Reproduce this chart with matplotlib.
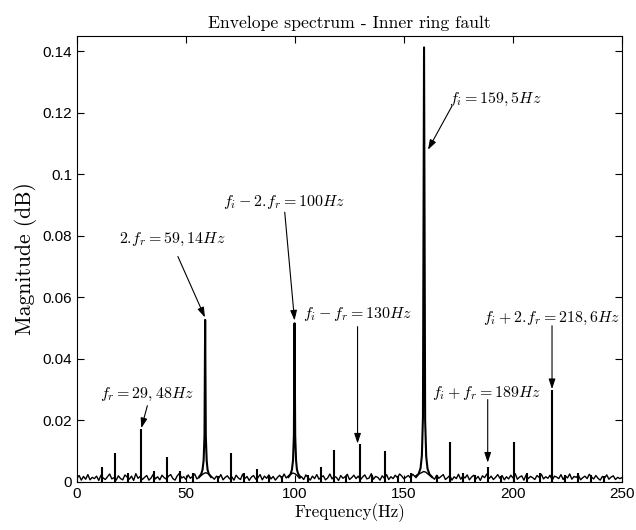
import numpy as np
import matplotlib
matplotlib.use("Agg")
import matplotlib.pyplot as plt

plt.rcParams['mathtext.fontset'] = 'cm'
plt.rcParams['font.family'] = ['Liberation Sans', 'DejaVu Sans']

# noise floor, one value per Hz from 0 to 250 Hz
floor_mag = [
    0.0012, 0.0021, 0.0006, 0.0018, 0.0009, 0.0024, 0.0007, 0.0015, 0.0011, 0.0019,
    0.0005, 0.0022, 0.0013, 0.0008, 0.0017, 0.0026, 0.0010, 0.0014, 0.0006, 0.0020,
    0.0011, 0.0007, 0.0023, 0.0016, 0.0009, 0.0019, 0.0005, 0.0027, 0.0012, 0.0018,
    0.0008, 0.0015, 0.0021, 0.0006, 0.0013, 0.0025, 0.0010, 0.0017, 0.0007, 0.0022,
    0.0014, 0.0009, 0.0019, 0.0024, 0.0011, 0.0006, 0.0020, 0.0028, 0.0013, 0.0017,
    0.0008, 0.0023, 0.0012, 0.0018, 0.0026, 0.0010, 0.0015, 0.0021, 0.0027, 0.0030,
    0.0028, 0.0022, 0.0016, 0.0009, 0.0019, 0.0012, 0.0024, 0.0007, 0.0015, 0.0020,
    0.0010, 0.0017, 0.0006, 0.0022, 0.0013, 0.0008, 0.0025, 0.0011, 0.0018, 0.0005,
    0.0016, 0.0021, 0.0009, 0.0014, 0.0024, 0.0007, 0.0019, 0.0012, 0.0023, 0.0010,
    0.0018, 0.0006, 0.0015, 0.0022, 0.0011, 0.0026, 0.0013, 0.0020, 0.0025, 0.0029,
    0.0027, 0.0021, 0.0012, 0.0017, 0.0008, 0.0023, 0.0014, 0.0006, 0.0019, 0.0011,
    0.0024, 0.0009, 0.0016, 0.0020, 0.0007, 0.0013, 0.0026, 0.0010, 0.0018, 0.0015,
    0.0005, 0.0021, 0.0012, 0.0017, 0.0025, 0.0008, 0.0014, 0.0022, 0.0011, 0.0019,
    0.0007, 0.0016, 0.0023, 0.0010, 0.0013, 0.0027, 0.0009, 0.0018, 0.0015, 0.0006,
    0.0020, 0.0012, 0.0024, 0.0008, 0.0017, 0.0011, 0.0022, 0.0014, 0.0026, 0.0019,
    0.0010, 0.0016, 0.0021, 0.0013, 0.0025, 0.0018, 0.0023, 0.0027, 0.0030, 0.0034,
    0.0032, 0.0026, 0.0020, 0.0015, 0.0009, 0.0022, 0.0012, 0.0018, 0.0024, 0.0008,
    0.0014, 0.0021, 0.0006, 0.0017, 0.0011, 0.0025, 0.0009, 0.0019, 0.0013, 0.0023,
    0.0007, 0.0016, 0.0022, 0.0010, 0.0018, 0.0005, 0.0020, 0.0014, 0.0026, 0.0011,
    0.0019, 0.0008, 0.0015, 0.0024, 0.0012, 0.0021, 0.0007, 0.0017, 0.0010, 0.0022,
    0.0013, 0.0027, 0.0009, 0.0016, 0.0020, 0.0006, 0.0023, 0.0011, 0.0018, 0.0014,
    0.0008, 0.0021, 0.0015, 0.0025, 0.0010, 0.0017, 0.0012, 0.0022, 0.0006, 0.0019,
    0.0016, 0.0011, 0.0024, 0.0008, 0.0020, 0.0013, 0.0026, 0.0009, 0.0018, 0.0015,
    0.0022, 0.0007, 0.0014, 0.0019, 0.0011, 0.0025, 0.0016, 0.0010, 0.0021, 0.0012,
    0.0006, 0.0018, 0.0013, 0.0023, 0.0009, 0.0016, 0.0020, 0.0008, 0.0015, 0.0011,
    0.0014,
]
floor_freq = np.linspace(0, 250, len(floor_mag))

# narrow spectral lines
peak_freq = [11.5, 17.4, 23.3, 29.4, 35.2, 41.1, 47.1, 53.0, 64.8, 70.6, 76.5,
             82.4, 88.3, 94.2, 106.0, 111.9, 117.7, 123.6, 129.6, 135.5, 141.4,
             147.3, 153.2, 165.1, 171.0, 176.9, 182.8, 188.7, 194.6, 200.4,
             206.3, 212.2, 217.9, 224.0, 229.9, 235.8, 241.7]
peak_mag = [0.0050, 0.0094, 0.0030, 0.0172, 0.0037, 0.0080, 0.0035, 0.0030,
            0.0020, 0.0095, 0.0030, 0.0041, 0.0022, 0.0020, 0.0022, 0.0048,
            0.0104, 0.0020, 0.0123, 0.0022, 0.0101, 0.0020, 0.0030, 0.0022,
            0.0129, 0.0030, 0.0022, 0.0050, 0.0020, 0.0131, 0.0030, 0.0030,
            0.0300, 0.0022, 0.0030, 0.0022, 0.0020]

# wide peaks
p59_freq = [56.0, 57.0, 57.6, 58.1, 58.5, 58.8, 59.1, 59.5, 59.9, 60.5, 61.5]
p59_mag = [0.0016, 0.0026, 0.0040, 0.0070, 0.015, 0.0527, 0.015, 0.0070, 0.0040, 0.0026, 0.0016]
p100_freq = [97.0, 98.0, 98.6, 99.1, 99.5, 99.8, 100.1, 100.5, 100.9, 101.5, 102.5]
p100_mag = [0.0016, 0.0026, 0.0040, 0.0070, 0.015, 0.0516, 0.015, 0.0070, 0.0040, 0.0026, 0.0016]
p159_freq = [155.5, 156.7, 157.6, 158.2, 158.7, 159.2, 159.7, 160.2, 160.8, 161.7, 162.9]
p159_mag = [0.0016, 0.0026, 0.0045, 0.0085, 0.0210, 0.1413, 0.0200, 0.0082, 0.0043, 0.0025, 0.0016]

ytick_vals = [0, 0.02, 0.04, 0.06, 0.08, 0.1, 0.12, 0.14]
ytick_labels = ['0', '0.02', '0.04', '0.06', '0.08', '0.1', '0.12', '0.14']
xtick_vals = [0, 50, 100, 150, 200, 250]

# annotations: label, text position, arrow tail, arrow tip
notes = [
    (r'$f_r = 29,48Hz$', (32.3, 0.0285), (32.3, 0.0248), (29.5, 0.0175)),
    (r'$2.\!f_r = 59,14Hz$', (43.6, 0.0790), (46.3, 0.0733), (58.7, 0.0535)),
    (r'$f_i - 2.\!f_r = 100Hz$', (95.2, 0.0910), (95.3, 0.0877), (99.8, 0.0525)),
    (r'$f_i - f_r = 130Hz$', (128.7, 0.0545), (128.7, 0.0505), (128.7, 0.0125)),
    (r'$f_i = 159,5Hz$', (192.0, 0.1245), (172.0, 0.1222), (161.0, 0.1080)),
    (r'$f_i + f_r = 189Hz$', (187.8, 0.0290), (188.4, 0.0268), (188.4, 0.0063)),
    (r'$f_i + 2.\!f_r = 218,6Hz$', (217.6, 0.0533), (217.9, 0.0508), (217.9, 0.0302)),
]

fig = plt.figure(figsize=(6.36, 5.30), dpi=100)
ax = fig.add_axes([0.121, 0.0906, 0.857, 0.8415])

ax.plot(floor_freq, floor_mag, color='black', lw=1.0)
ax.vlines(peak_freq, 0, peak_mag, color='black', lw=1.5)
for fx, my in [(p59_freq, p59_mag), (p100_freq, p100_mag), (p159_freq, p159_mag)]:
    ax.plot(fx, my, color='black', lw=1.5)

for label, tpos, tail, tip in notes:
    ax.text(tpos[0], tpos[1], label, ha='center', va='center', fontsize=11.5)
    ax.annotate('', xy=tip, xytext=tail,
                arrowprops=dict(arrowstyle='-|>,head_length=0.6,head_width=0.2',
                                color='black', lw=0.8, shrinkA=0, shrinkB=0))

ax.set_xlim(0, 250)
ax.set_ylim(0, 0.145)
ax.set_xticks(xtick_vals)
ax.set_yticks(ytick_vals)
ax.set_yticklabels(ytick_labels)
ax.tick_params(direction='in', top=True, right=True, labelsize=11, length=5, width=0.8)
for s in ax.spines.values():
    s.set_linewidth(0.8)

ax.set_title('Envelope spectrum - Inner ring fault', fontfamily='cmr10', fontsize=12.7)
ax.set_xlabel('Frequency(Hz)', fontfamily='cmr10', fontsize=12.3, labelpad=2)
ax.set_ylabel('Magnitude (dB)', fontfamily='cmr10', fontsize=15.5, labelpad=4)

fig.savefig('out.png', dpi=100)
